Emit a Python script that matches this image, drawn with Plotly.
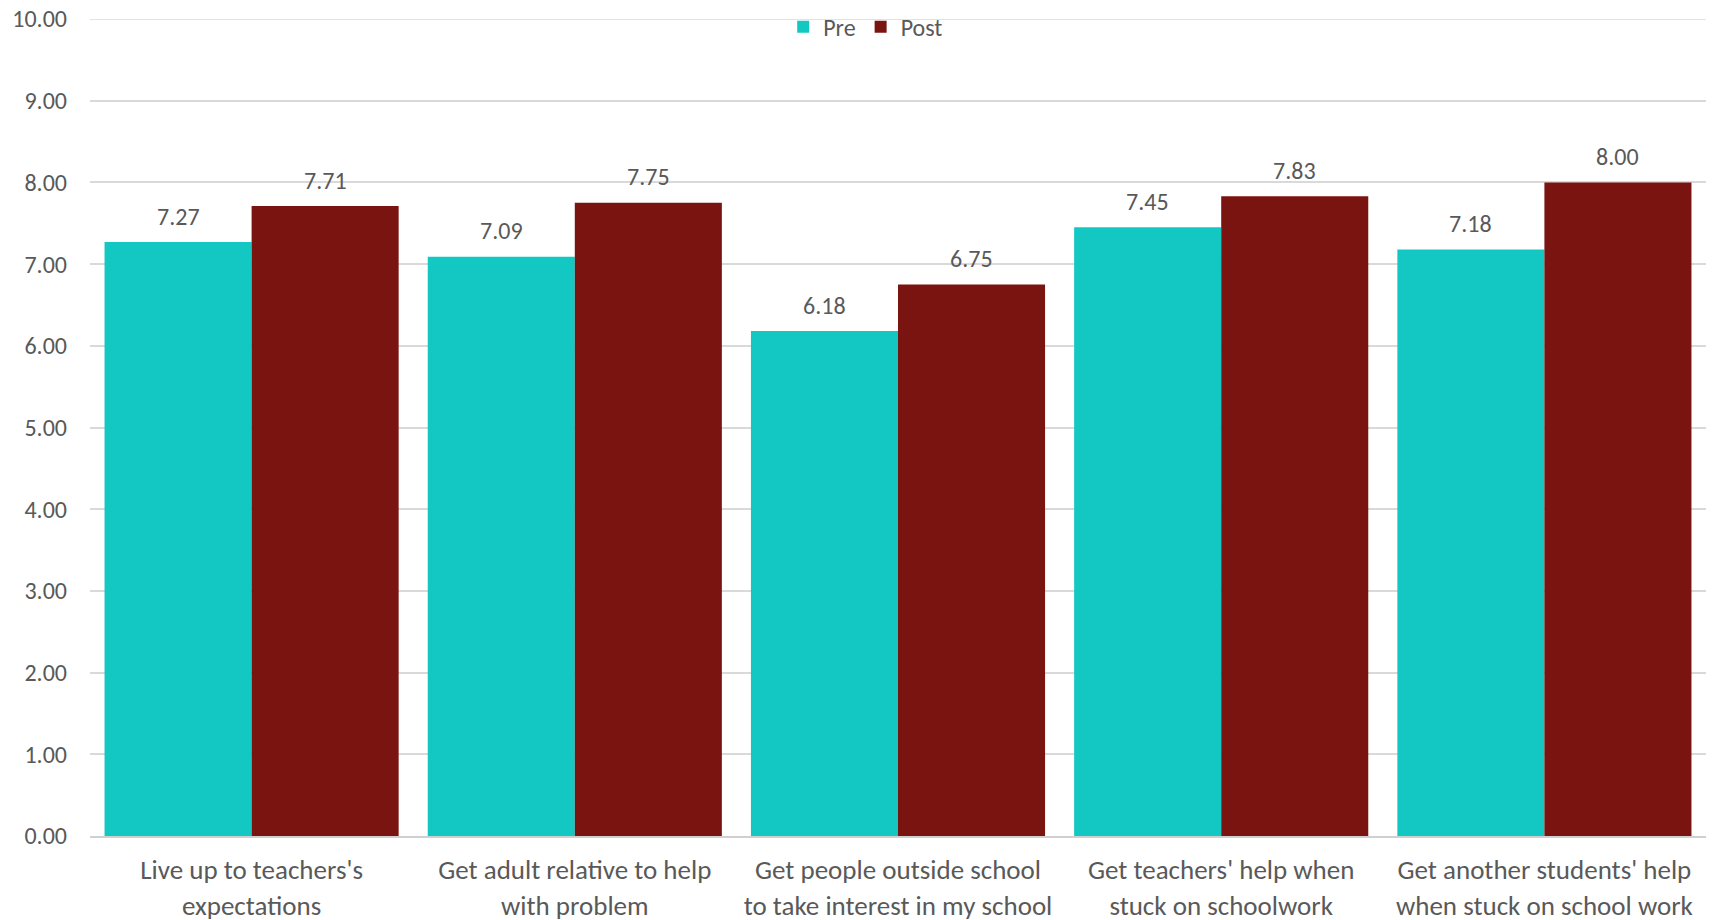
import plotly.graph_objects as go

categories = [
    "Live up to teachers's<br>expectations",
    "Get adult relative to help<br>with problem",
    "Get people outside school<br>to take interest in my school",
    "Get teachers' help when<br>stuck on schoolwork",
    "Get another students' help<br>when stuck on school work",
]
pre_values = [7.27, 7.09, 6.18, 7.45, 7.18]
post_values = [7.71, 7.75, 6.75, 7.83, 8.00]
y_ticks = [0, 1, 2, 3, 4, 5, 6, 7, 8, 9, 10]

PRE_COLOR = "#13C8C3"
POST_COLOR = "#7A1411"
TEXT_COLOR = "#595959"
GRID_COLOR = "#D9D9D9"
FONT = "Carlito, Lato, sans-serif"

BARGAP = 0.09
bar_w = (1 - BARGAP) / 2

fig = go.Figure()
fig.add_trace(go.Bar(name="Pre", x=categories, y=pre_values, marker_color=PRE_COLOR,
                     marker_line_width=0))
fig.add_trace(go.Bar(name="Post", x=categories, y=post_values, marker_color=POST_COLOR,
                     marker_line_width=0))

annotations = []
for i, (a, b) in enumerate(zip(pre_values, post_values)):
    for off, v in ((-bar_w / 2, a), (bar_w / 2, b)):
        annotations.append(dict(x=i + off, y=v, xref="x", yref="y", text=f"{v:.2f}",
                                showarrow=False, yshift=26, yanchor="middle",
                                font=dict(size=24, color=TEXT_COLOR, family=FONT)))

fig.update_layout(
    width=1718, height=920,
    barmode="group", bargap=BARGAP, bargroupgap=0,
    plot_bgcolor="white", paper_bgcolor="white",
    margin=dict(l=90, r=12, t=19, b=84, autoexpand=False),
    font=dict(family=FONT, color=TEXT_COLOR, size=24),
    legend=dict(orientation="h", x=0.48, xanchor="center", y=0.99, yanchor="middle",
                font=dict(size=24, color=TEXT_COLOR), bgcolor="rgba(0,0,0,0)",
                itemwidth=30, tracegroupgap=0),
    annotations=annotations,
    showlegend=True,
    shapes=[dict(type="line", xref="paper", yref="y", x0=0, x1=1, y0=y_ticks[-1],
                 y1=y_ticks[-1], line=dict(color=GRID_COLOR, width=1.5), layer="below")],
)
fig.update_yaxes(range=[0, 10], tickvals=y_ticks, tickformat=".2f", automargin=False,
                 showgrid=True, gridcolor=GRID_COLOR, gridwidth=1.5,
                 zeroline=False, showline=False, ticks="", ticklabelstandoff=22,
                 ticklabeloverflow="allow",
                 tickfont=dict(size=24, color=TEXT_COLOR))
fig.update_xaxes(showline=True, linecolor="#D0D0D0", linewidth=2, ticks="", automargin=False,
                 ticklabeloverflow="allow",
                 tickfont=dict(size=27, color=TEXT_COLOR), ticklabelstandoff=9)

fig.write_html("out.html", config={"displayModeBar": False},
               post_script="document.body.style.margin='0';document.body.style.overflow='hidden';")
